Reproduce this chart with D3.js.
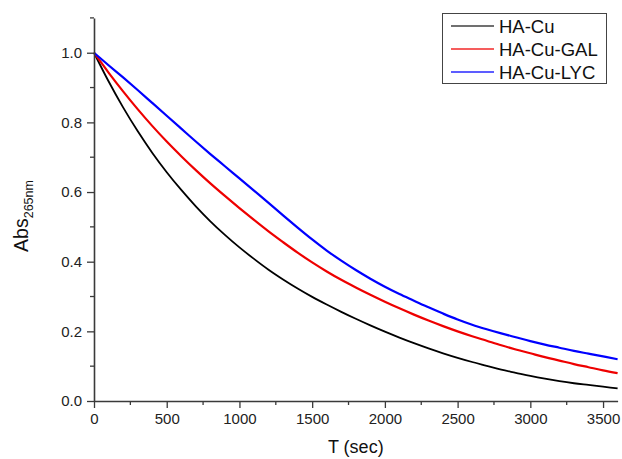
<!DOCTYPE html>
<html>
<head>
<meta charset="utf-8">
<script src="https://cdn.jsdelivr.net/npm/d3@7"></script>
<style>
  html, body { margin: 0; padding: 0; background: #fff; }
  svg { display: block; font-family: "Liberation Sans", Arial, sans-serif; }
</style>
</head>
<body>
<svg id="chart" width="622" height="459"></svg>
<script>
// ---- Data ----
const times = [0,100,200,300,400,500,600,700,800,900,1000,1100,1200,1300,1400,1500,1600,1700,1800,1900,2000,2100,2200,2300,2400,2500,2600,2700,2800,2900,3000,3100,3200,3300,3400,3500,3600];
const haCu = [1.000,0.918,0.843,0.775,0.713,0.657,0.606,0.559,0.516,0.477,0.441,0.408,0.377,0.349,0.323,0.299,0.277,0.256,0.236,0.217,0.199,0.182,0.166,0.151,0.137,0.124,0.112,0.101,0.090,0.081,0.072,0.064,0.057,0.051,0.046,0.041,0.036];
const haCuGal = [1.000,0.943,0.889,0.838,0.790,0.745,0.703,0.663,0.625,0.589,0.554,0.520,0.487,0.456,0.426,0.398,0.372,0.348,0.326,0.305,0.285,0.266,0.248,0.231,0.215,0.200,0.186,0.173,0.160,0.148,0.137,0.126,0.116,0.106,0.097,0.088,0.080];
const haCuLyc = [1.000,0.964,0.929,0.893,0.856,0.819,0.782,0.745,0.709,0.674,0.639,0.604,0.569,0.533,0.498,0.464,0.432,0.403,0.376,0.351,0.328,0.307,0.288,0.269,0.251,0.234,0.219,0.206,0.194,0.183,0.172,0.162,0.153,0.144,0.136,0.128,0.120];
const seriesNames = ["HA-Cu", "HA-Cu-GAL", "HA-Cu-LYC"];
const seriesColors = ["#000000", "#ee0000", "#0000ff"];
const xTickValues = [0,500,1000,1500,2000,2500,3000,3500];
const yTickValues = [0.0,0.2,0.4,0.6,0.8,1.0];

const seriesValues = [haCu, haCuGal, haCuLyc];

const svg = d3.select("#chart");
const x = d3.scaleLinear().domain([0, 3600]).range([94, 617.6]);
const y = d3.scaleLinear().domain([0, 1.1]).range([401, 17.9]);
const axisColor = "#3a3a3a";

// minor ticks
const xMinor = d3.range(250, 3600, 500);
const yMinor = d3.range(0.1, 1.15, 0.2);

svg.append("g").selectAll("line").data(xMinor).join("line")
  .attr("x1", d => x(d)).attr("x2", d => x(d))
  .attr("y1", 401).attr("y2", 405)
  .attr("stroke", axisColor).attr("stroke-width", 1.3);
svg.append("g").selectAll("line").data(yMinor).join("line")
  .attr("x1", 94).attr("x2", 90)
  .attr("y1", d => y(d)).attr("y2", d => y(d))
  .attr("stroke", axisColor).attr("stroke-width", 1.3);

// series lines
const line = d3.line().x((d, i) => x(times[i])).y(d => y(d)).curve(d3.curveMonotoneX);
seriesValues.forEach((vals, k) => {
  svg.append("path")
    .datum(vals)
    .attr("fill", "none")
    .attr("stroke", seriesColors[k])
    .attr("stroke-width", k === 0 ? 1.8 : 2.2)
    .attr("d", line);
});

// axes
const xAxis = d3.axisBottom(x).tickValues(xTickValues).tickFormat(d3.format("d"))
  .tickSizeInner(7).tickSizeOuter(0).tickPadding(5);
const gx = svg.append("g").attr("transform", "translate(0,401)").call(xAxis);
const yAxis = d3.axisLeft(y).tickValues(yTickValues).tickFormat(d3.format(".1f"))
  .tickSizeInner(7).tickSizeOuter(0).tickPadding(5);
const gy = svg.append("g").attr("transform", "translate(94,0)").call(yAxis);

[gx, gy].forEach(g => {
  g.select(".domain").attr("stroke", axisColor).attr("stroke-width", 1.6);
  g.selectAll(".tick line").attr("stroke", axisColor).attr("stroke-width", 1.3);
  g.selectAll(".tick text").attr("fill", "#222").style("font-size", "15px")
    .style("font-family", "'Liberation Sans', Arial, sans-serif");
});

// axis titles
svg.append("text")
  .attr("x", (x(0) + x(3600)) / 2).attr("y", 453)
  .attr("text-anchor", "middle")
  .attr("fill", "#111")
  .style("font-size", "18px")
  .text("T (sec)");

const yt = svg.append("text")
  .attr("transform", "translate(28,216) rotate(-90)")
  .attr("text-anchor", "middle")
  .attr("fill", "#111")
  .style("font-size", "19.5px");
yt.append("tspan").text("Abs");
yt.append("tspan").attr("dy", 5).style("font-size", "12.5px").text("265nm");

// legend
const lg = svg.append("g");
lg.append("rect").attr("x", 442.5).attr("y", 13.5).attr("width", 164).attr("height", 70)
  .attr("fill", "#fff").attr("stroke", "#444").attr("stroke-width", 1);
seriesNames.forEach((name, k) => {
  const cy = 26 + k * 23;
  lg.append("line").attr("x1", 451).attr("x2", 494).attr("y1", cy).attr("y2", cy)
    .attr("stroke", seriesColors[k]).attr("stroke-width", 1.4).attr("stroke-opacity", k === 0 ? 0.75 : 0.85);
  lg.append("text").attr("x", 499).attr("y", cy + 6.5)
    .attr("fill", "#111").style("font-size", "18.5px").text(name);
});
</script>
</body>
</html>
